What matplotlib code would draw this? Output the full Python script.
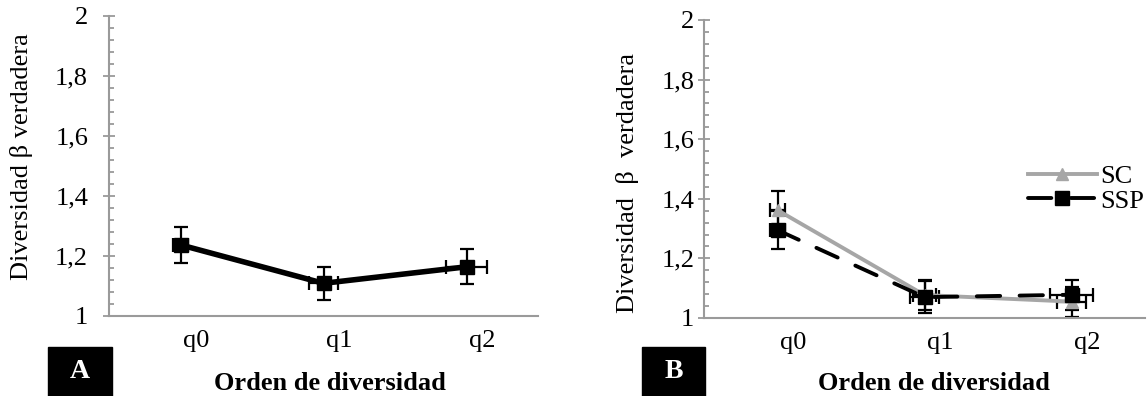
import matplotlib
matplotlib.use("Agg")
from matplotlib import pyplot as plt
from matplotlib.patches import Rectangle
from matplotlib.ticker import MultipleLocator

plt.rcParams['font.family'] = ['Liberation Serif', 'DejaVu Serif']

ordenes = ["q0", "q1", "q2"]

# panel A
beta_a = [1.237, 1.109, 1.164]
err_a = [0.060, 0.054, 0.058]
xerr_a = [0.05, 0.10, 0.145]

# panel B
beta_sc = [1.362, 1.077, 1.055]
err_sc = [0.065, 0.050, 0.050]
xerr_sc = [0.05, 0.08, 0.10]
beta_ssp = [1.295, 1.070, 1.078]
err_ssp = [0.065, 0.054, 0.050]
xerr_ssp = [0.05, 0.10, 0.146]

W, H = 1148, 396
fig = plt.figure(figsize=(W / 100, H / 100), dpi=100)
gris = '#9a9a9a'
fs = 19


def ejes(left, right, y1, y2, pad):
    ax = fig.add_axes([left / W, 1 - y1 / H, (right - left) / W, (y1 - y2) / H])
    ax.set_xlim(-0.5, 2.5)
    ax.set_ylim(1, 2)
    for s in ['top', 'right']:
        ax.spines[s].set_visible(False)
    for s in ['left', 'bottom']:
        ax.spines[s].set_color(gris)
        ax.spines[s].set_linewidth(1.5)
    ax.yaxis.set_minor_locator(MultipleLocator(0.04))
    ax.set_yticks([1, 1.2, 1.4, 1.6, 1.8, 2])
    ax.set_yticklabels(['1', '1,2', '1,4', '1,6', '1,8', '2'])
    ax.tick_params(axis='y', which='major', direction='inout', length=8, width=1.3,
                   color=gris, labelsize=fs, pad=pad)
    ax.tick_params(axis='y', which='minor', direction='in', length=3.5, width=1.3, color=gris)
    n = len(ordenes)
    ax.set_xticks([i + 0.11 for i in range(n)])
    ax.set_xticklabels(ordenes)
    ax.tick_params(axis='x', length=0, labelsize=fs, pad=10)
    return ax


# ---- A ----
axA = ejes(109, 538, 316, 16, 11)
x = list(range(len(ordenes)))
axA.errorbar(x, beta_a, yerr=err_a, xerr=xerr_a, color='black', lw=4,
             marker='s', ms=10.5, elinewidth=1.6, capsize=5, capthick=1.6)
axA.set_ylabel('Diversidad β verdadera', fontsize=fs)
axA.yaxis.set_label_coords(-0.177, 0.53)

# ---- B ----
axB = ejes(704, 1145, 318, 20, 3)
axB.errorbar(x, beta_ssp, yerr=err_ssp, xerr=xerr_ssp, fmt='none', ecolor='black',
             elinewidth=1.6, capsize=5, capthick=1.6)
axB.errorbar(x, beta_sc, yerr=err_sc, xerr=xerr_sc, fmt='none', ecolor='black',
             elinewidth=1.6, capsize=5, capthick=1.6)
l_sc, = axB.plot(x, beta_sc, color='#a6a6a6', lw=2.8, marker='^', ms=9, label='SC')
l_ssp, = axB.plot(x, beta_ssp, color='black', lw=2.8, ls=(0, (6, 5)),
                  dash_capstyle='round', marker='s', ms=9.5, label='SSP')
axB.set_ylabel('Diversidad  β  verdadera', fontsize=fs)
axB.yaxis.set_label_coords(-0.147, 0.453)
axB.legend(handles=[l_sc, l_ssp], loc='upper left', bbox_to_anchor=(0.705, 0.56),
           frameon=False, fontsize=fs, handlelength=2.6, handletextpad=0.15,
           labelspacing=0.05, borderpad=0)

# etiquetas del eje x y cajas A / B
fig.text(330 / W, 1 - 384 / H, 'Orden de diversidad', ha='center', va='center',
         fontsize=fs, fontweight='bold')
fig.text(934 / W, 1 - 383 / H, 'Orden de diversidad', ha='center', va='center',
         fontsize=fs, fontweight='bold')
for x0, x1, letra in [(48, 112, 'A'), (642, 705, 'B')]:
    fig.patches.append(Rectangle((x0 / W, 0), (x1 - x0) / W, 49 / H,
                                 transform=fig.transFigure, color='black'))
    fig.text((x0 + x1) / 2 / W, 24 / H, letra, color='white', ha='center', va='center',
             fontsize=20, fontweight='bold')

fig.savefig('out.png', dpi=100)
